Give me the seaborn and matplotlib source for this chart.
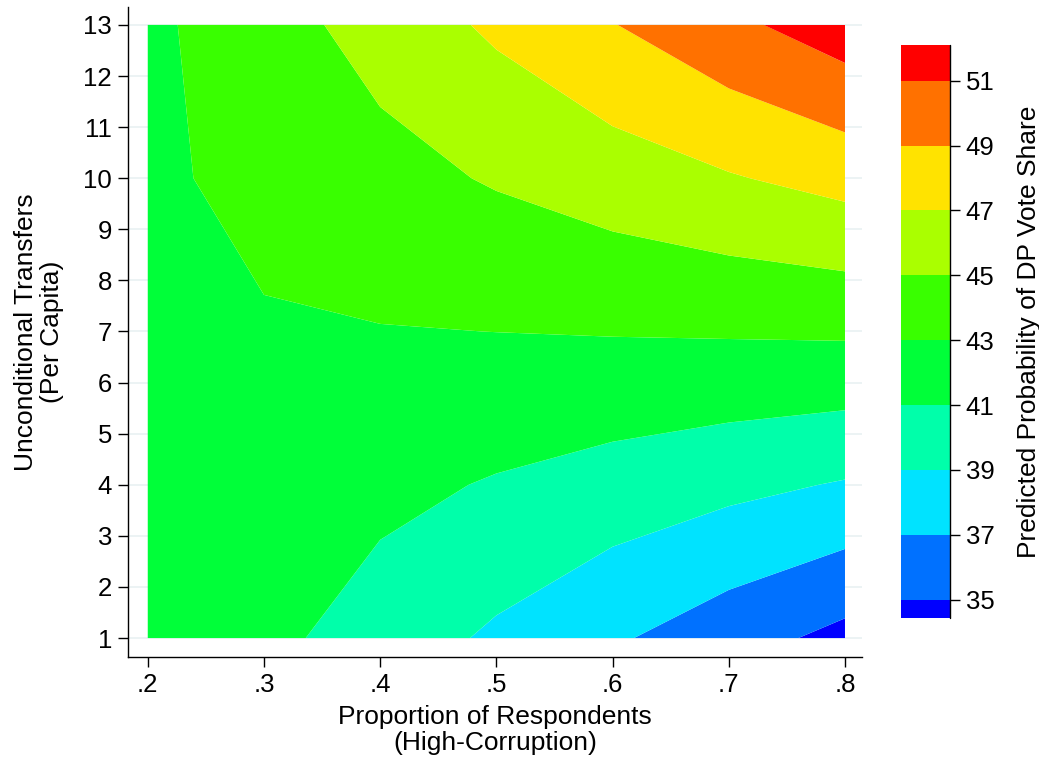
import colorsys
import numpy as np
import pandas as pd
import matplotlib
matplotlib.use("Agg")
import matplotlib.pyplot as plt
import seaborn as sns

# ---- data ----
x_props = [0.2, 0.3, 0.4, 0.5, 0.6, 0.7, 0.8]
y_transfers = [1, 4, 7, 10, 13]
share_y1 = [42.92, 41.51, 40.09, 38.68, 37.26, 35.85, 34.43]
share_y4 = [42.84, 42.17, 41.51, 40.84, 40.18, 39.51, 38.85]
share_y7 = [42.76, 42.84, 42.93, 43.01, 43.10, 43.18, 43.27]
share_y10 = [42.67, 43.51, 44.34, 45.18, 46.01, 46.85, 47.68]
share_y13 = [42.59, 44.18, 45.76, 47.35, 48.93, 50.52, 52.10]
cut_levels = [35, 37, 39, 41, 43, 45, 47, 49, 51]
x_ticklabels = [".2", ".3", ".4", ".5", ".6", ".7", ".8"]
y_ticks = list(range(1, 14))

rows = [share_y1, share_y4, share_y7, share_y10, share_y13]
df = pd.DataFrame(
    [(x, y, v) for y, row in zip(y_transfers, rows) for x, v in zip(x_props, row)],
    columns=["prop", "transfers", "share"],
)
grid = df.pivot(index="transfers", columns="prop", values="share")
X, Y = np.meshgrid(grid.columns.values, grid.index.values)
Z = grid.values

sns.set_theme(style="white")
plt.rcParams["font.family"] = ["Liberation Sans", "DejaVu Sans"]

fig = plt.figure(figsize=(10.39, 7.64), dpi=100)
ax = fig.add_axes([0.1232, 0.1401, 0.8296 - 0.1232, 0.9908 - 0.1401])

for yv in y_ticks:
    ax.axhline(yv, color="#eaf2f3", lw=1.3, zorder=0)

levels = [Z.min()] + cut_levels + [Z.max()]
nb = len(levels) - 1
colors = [colorsys.hsv_to_rgb(h / 360.0, 1, 1) for h in np.linspace(240, 0, nb)]
cs = ax.contourf(X, Y, Z, levels=levels, colors=colors, zorder=1, antialiased=True)

ax.set_xlim(0.183, 0.8146)
ax.set_ylim(0.63, 13.35)
ax.set_xticks(x_props)
ax.set_xticklabels(x_ticklabels)
ax.set_yticks(y_ticks)
for s in ["top", "right"]:
    ax.spines[s].set_visible(False)
for s in ["left", "bottom"]:
    ax.spines[s].set_color("black")
    ax.spines[s].set_linewidth(1.0)
ax.tick_params(axis="both", which="major", bottom=True, left=True, direction="out",
               length=7.5, width=1, color="black", labelsize=18.5, labelcolor="black", pad=4)
ax.set_xlabel("Proportion of Respondents\n(High-Corruption)", fontsize=19,
              color="black", linespacing=1.1, labelpad=6)
ax.set_ylabel("Unconditional Transfers\n(Per Capita)", fontsize=19,
              color="black", linespacing=1.1, labelpad=14)
ax.grid(False)

cax = fig.add_axes([0.867, 0.191, 0.047, 0.75])
cb = fig.colorbar(cs, cax=cax, ticks=cut_levels, spacing="proportional")
cb.outline.set_visible(False)
cax.plot([1, 1], [0, 1], transform=cax.transAxes, color="black", lw=1.0, clip_on=False)
cax.tick_params(direction="out", length=7.5, width=1, color="black", labelsize=18.5,
                labelcolor="black", right=True, pad=4)
cb.set_label("Predicted Probability of DP Vote Share", fontsize=19, color="black",
             labelpad=16)

fig.savefig("out.png", dpi=100)
